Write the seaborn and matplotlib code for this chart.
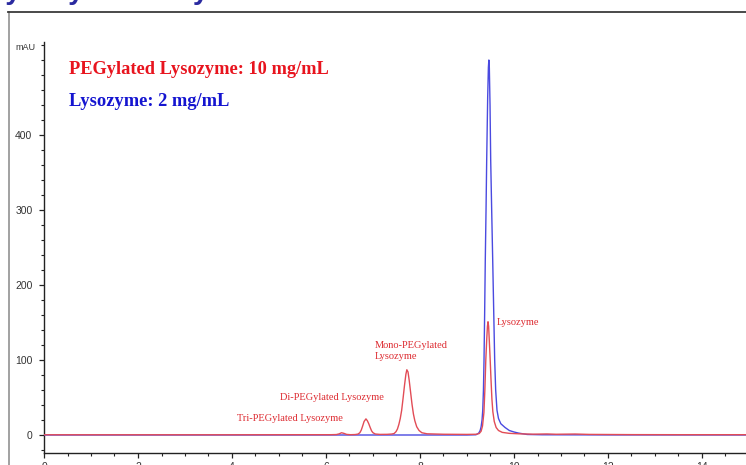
import matplotlib
matplotlib.use("Agg")
import matplotlib.pyplot as plt
import seaborn as sns
import pandas as pd
from matplotlib.lines import Line2D
from matplotlib.ticker import MultipleLocator, FixedLocator

# ---- data ----
red_time = [0.0, 2.0, 4.0, 5.5, 6.10, 6.22, 6.28, 6.33, 6.38, 6.44, 6.52, 6.62, 6.68, 6.72,
            6.75, 6.78, 6.81, 6.85, 6.88, 6.91, 6.94, 6.97, 7.00, 7.05, 7.15, 7.30, 7.40,
            7.45, 7.49, 7.52, 7.55, 7.58, 7.61, 7.64, 7.67, 7.70, 7.72, 7.745, 7.77, 7.80,
            7.83, 7.86, 7.89, 7.93, 7.98, 8.04, 8.15, 8.50, 9.00, 9.20, 9.26, 9.30, 9.33,
            9.36, 9.38, 9.40, 9.42, 9.435, 9.447, 9.46, 9.475, 9.49, 9.51, 9.53, 9.55,
            9.58, 9.62, 9.67, 9.75, 9.90, 10.10, 10.40, 10.70, 10.90, 11.30, 11.60,
            12.50, 13.50, 15.0]
red_mau = [0.3, 0.3, 0.3, 0.4, 0.4, 0.6, 1.5, 3.0, 2.2, 0.8, 0.4, 0.6, 1.2, 3.0,
           6.5, 12, 18, 21.5, 19, 15, 10, 5.5, 3.0, 1.3, 0.8, 0.9, 1.3,
           2.0, 4.5, 8, 14, 22, 33, 49, 66, 81, 87, 84, 73, 57,
           41, 28, 19, 11, 6, 3, 1.6, 1.0, 0.8, 1.0, 2.0, 5.0, 12,
           30, 60, 100, 128, 145, 151, 145, 125, 105, 75, 48, 31,
           18, 10, 6, 3.5, 2.2, 1.6, 1.1, 1.4, 1.0, 1.3, 0.8,
           0.5, 0.4, 0.4]

blue_time = [0.0, 6.0, 9.0, 9.19, 9.25, 9.28, 9.30, 9.32, 9.335, 9.35, 9.362, 9.375,
             9.389, 9.405, 9.419, 9.44, 9.455, 9.465, 9.475, 9.49, 9.504, 9.525, 9.547,
             9.57, 9.589, 9.61, 9.638, 9.67, 9.72, 9.81, 9.90, 10.0, 10.1, 10.28, 10.6,
             12.0, 15.0]
blue_mau = [0.0, 0.0, 0.0, 0.3, 2.5, 6, 11, 20, 33, 60, 100, 160,
            233, 300, 367, 450, 490, 500, 490, 440, 367, 300, 233,
            160, 100, 60, 33, 22, 15, 10, 6, 4, 2.5, 0.7, 0.3,
            0.1, 0.0]

x_major_ticks = [0, 2, 4, 6, 8, 10, 12, 14]
y_major_ticks = [0, 100, 200, 300, 400]

title_text = "Lysozyme Analysis"
legend_red = "PEGylated Lysozyme: 10 mg/mL"
legend_blue = "Lysozyme: 2 mg/mL"
peak_labels = ["Tri-PEGylated Lysozyme", "Di-PEGylated Lysozyme",
               "Mono-PEGylated\nLysozyme", "Lysozyme"]

# ---- figure ----
W, H = 746, 465
fig = plt.figure(figsize=(W / 100, H / 100), dpi=100)
fig.patch.set_facecolor("white")

def fx(px):
    return px / W

def fy(py):
    return 1 - py / H

ax_left, ax_bottom_px, ax_top_px = 44, 453, 42
x_max = 15.0
ax_width_px = x_max * 47
ax = fig.add_axes([fx(ax_left), fy(ax_bottom_px), ax_width_px / W,
                   (ax_bottom_px - ax_top_px) / H])
ax.set_facecolor("white")

df_blue = pd.DataFrame({"time": blue_time, "mAU": blue_mau})
df_red = pd.DataFrame({"time": red_time, "mAU": red_mau})
sns.lineplot(data=df_blue, x="time", y="mAU", ax=ax, color="#4a4ae0", lw=1.0,
             sort=False, estimator=None, zorder=3)
sns.lineplot(data=df_red, x="time", y="mAU", ax=ax, color="#e24c56", lw=1.0,
             sort=False, estimator=None, zorder=4)

ax.set_xlim(0, x_max)
ax.set_ylim(-24, 524)
ax.set_xlabel("")
ax.set_ylabel("")
for s in ["top", "right"]:
    ax.spines[s].set_visible(False)
for s in ["left", "bottom"]:
    ax.spines[s].set_color("#222222")
    ax.spines[s].set_linewidth(1.0)

ax.xaxis.set_major_locator(FixedLocator(x_major_ticks))
ax.xaxis.set_minor_locator(MultipleLocator(0.5))
ax.yaxis.set_major_locator(FixedLocator(y_major_ticks))
ax.yaxis.set_minor_locator(MultipleLocator(20))
ax.set_xticklabels([str(v) for v in x_major_ticks])
ax.set_yticklabels([str(v) for v in y_major_ticks])
ax.tick_params(axis="both", which="major", length=3.8, width=0.9, color="#222222",
               labelsize=7.5, labelcolor="#333333")
ax.tick_params(axis="both", which="minor", length=2.0, width=0.8, color="#222222")
ax.tick_params(axis="y", which="major", pad=4.5)
ax.tick_params(axis="x", which="major", pad=3.0)
for lab in ax.get_xticklabels() + ax.get_yticklabels():
    lab.set_fontfamily("Liberation Sans")

# unit label
fig.text(fx(15), fy(47), "mAU", fontsize=6.5, family="Liberation Sans",
         color="#333333", ha="left", va="center")

# legend-like texts
fig.text(fx(69), fy(69), legend_red, fontsize=13.2, family="Liberation Serif",
         weight="bold", color="#e8141e", ha="left", va="center")
fig.text(fx(69), fy(101), legend_blue, fontsize=13.3, family="Liberation Serif",
         weight="bold", color="#1515d0", ha="left", va="center")

# peak labels
peak_pos = [(237, 418), (280, 397), (375, 351), (497, 322)]
for txt, (px, py) in zip(peak_labels, peak_pos):
    fig.text(fx(px), fy(py), txt, fontsize=7.5, family="Liberation Serif",
             color="#dd2a30", ha="left", va="center", linespacing=1.25)

# cropped title (only descenders visible)
fig.text(fx(-11), fy(-1), title_text, fontsize=20.3, family="Liberation Sans",
         weight="bold", color="#2a2aa0", ha="left", va="baseline")

# outer frame (cropped)
fig.add_artist(Line2D([fx(8.5), fx(8.5)], [fy(12), fy(470)], color="#9a9a9a",
                      lw=1.3, transform=fig.transFigure))
fig.add_artist(Line2D([fx(8), fx(750)], [fy(12.5), fy(12.5)], color="#3a3a3a",
                      lw=1.3, transform=fig.transFigure))

fig.savefig("out.png", dpi=100)
